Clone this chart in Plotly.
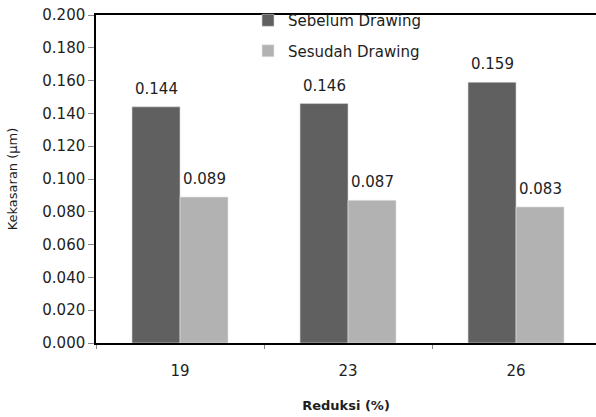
import plotly.graph_objects as go

categories = ["19", "23", "26"]
sebelum = [0.144, 0.146, 0.159]
sesudah = [0.089, 0.087, 0.083]
series_names = ["Sebelum Drawing", "Sesudah Drawing"]
y_ticks = [0.0, 0.02, 0.04, 0.06, 0.08, 0.1, 0.12, 0.14, 0.16, 0.18, 0.2]

FONT = "DejaVu Sans"
TXT = "#1e1e1e"
DARK = "#606060"
LIGHT = "#b2b2b2"

fig = go.Figure()
fig.add_trace(go.Bar(x=categories, y=sebelum, name=series_names[0], marker=dict(color=DARK, line=dict(color="#d8d8d8", width=0.6)),
                     legendgroup="a"))
fig.add_trace(go.Bar(x=categories, y=sesudah, name=series_names[1], marker=dict(color=LIGHT, line=dict(color="#e4e4e4", width=0.6)),
                     legendgroup="b"))

for vals, shift in ((sebelum, -24), (sesudah, 24)):
    for i, v in enumerate(vals):
        fig.add_annotation(x=i, y=v, xref="x", yref="y", text=f"{v:.3f}", showarrow=False,
                           xshift=shift, yshift=18, yanchor="middle",
                           font=dict(family=FONT, size=15, color=TXT))

fig.update_layout(
    width=596, height=417,
    margin=dict(l=96, r=0, t=15, b=74, autoexpand=False),
    paper_bgcolor="white", plot_bgcolor="white",
    barmode="group", bargap=0.4286, bargroupgap=0,
    font=dict(family=FONT, size=15, color=TXT),
    showlegend=True,
    legend=dict(x=0.304, y=1.0335, xanchor="left", yanchor="top",
                bgcolor="rgba(0,0,0,0)",
                itemwidth=30, tracegroupgap=8, font=dict(family=FONT, size=15, color=TXT)),
    xaxis=dict(type="category", range=[-0.5, 2.476], tickson="boundaries", ticks="outside", ticklen=4,
               tickcolor="#888888", showline=True, linecolor="black", linewidth=2,
               mirror=True, showgrid=False, automargin=False, ticklabelstandoff=13,
               tickfont=dict(family=FONT, size=15, color=TXT),
               title=dict(text="<b>Reduksi (%)</b>", font=dict(family=FONT, size=13, color=TXT), standoff=22)),
    yaxis=dict(range=[0, 0.2], tickvals=y_ticks, tickformat=".3f", ticks="outside", ticklen=6,
               tickcolor="#888888", showline=True, linecolor="black", linewidth=1.5,
               showgrid=False, zeroline=False, automargin=False,
               tickfont=dict(family=FONT, size=15, color=TXT),
               title=dict(text="Kekasaran (µm)", font=dict(family=FONT, size=13, color=TXT), standoff=22)),
)

fig.write_html("out.html", config={"displayModeBar": False},
               post_script="document.body.style.margin='0';")
